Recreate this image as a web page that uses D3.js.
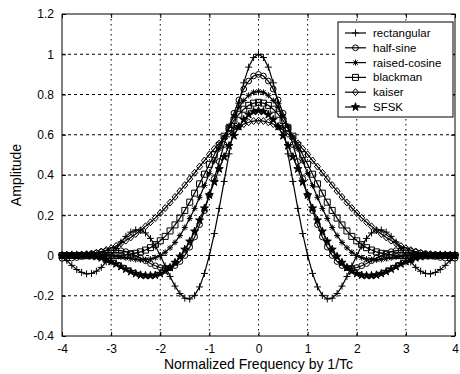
<!DOCTYPE html>
<html>
<head>
<meta charset="utf-8">
<script src="https://cdn.jsdelivr.net/npm/d3@7/dist/d3.min.js"></script>
<style>
  body { margin: 0; background: #fff; }
  svg { display: block; }
  text { font-family: "Liberation Sans", Arial, sans-serif; fill: #000; }
</style>
</head>
<body>
<div id="chart"></div>
<script>
// sample points of the normalized frequency axis
var freq = [-4.0, -3.9, -3.8, -3.7, -3.6, -3.5, -3.4, -3.3, -3.2, -3.1,
            -3.0, -2.9, -2.8, -2.7, -2.6, -2.5, -2.4, -2.3, -2.2, -2.1,
            -2.0, -1.9, -1.8, -1.7, -1.6, -1.5, -1.4, -1.3, -1.2, -1.1,
            -1.0, -0.9, -0.8, -0.7, -0.6, -0.5, -0.4, -0.3, -0.2, -0.1,
             0.0,  0.1,  0.2,  0.3,  0.4,  0.5,  0.6,  0.7,  0.8,  0.9,
             1.0,  1.1,  1.2,  1.3,  1.4,  1.5,  1.6,  1.7,  1.8,  1.9,
             2.0,  2.1,  2.2,  2.3,  2.4,  2.5,  2.6,  2.7,  2.8,  2.9,
             3.0,  3.1,  3.2,  3.3,  3.4,  3.5,  3.6,  3.7,  3.8,  3.9, 4.0];

var rectangular = [0, -0.025, -0.049, -0.070, -0.084, -0.091, -0.089, -0.078, -0.059, -0.032,
  0, 0.034, 0.067, 0.095, 0.116, 0.127, 0.126, 0.112, 0.085, 0.047,
  0, -0.052, -0.104, -0.152, -0.189, -0.212, -0.216, -0.198, -0.156, -0.089,
  0, 0.109, 0.234, 0.368, 0.505, 0.637, 0.757, 0.858, 0.936, 0.984,
  1, 0.984, 0.936, 0.858, 0.757, 0.637, 0.505, 0.368, 0.234, 0.109,
  0, -0.089, -0.156, -0.198, -0.216, -0.212, -0.189, -0.152, -0.104, -0.052,
  0, 0.047, 0.085, 0.112, 0.126, 0.127, 0.116, 0.095, 0.067, 0.034,
  0, -0.032, -0.059, -0.078, -0.089, -0.091, -0.084, -0.070, -0.049, -0.025, 0];

var halfSine = [-0.014, -0.014, -0.013, -0.010, -0.005, 0, 0.006, 0.012, 0.018, 0.023,
  0.026, 0.026, 0.024, 0.019, 0.011, 0, -0.013, -0.026, -0.040, -0.051,
  -0.060, -0.064, -0.061, -0.050, -0.030, 0, 0.041, 0.092, 0.153, 0.223,
  0.300, 0.382, 0.467, 0.551, 0.632, 0.707, 0.773, 0.827, 0.867, 0.892,
  0.900, 0.892, 0.867, 0.827, 0.773, 0.707, 0.632, 0.551, 0.467, 0.382,
  0.300, 0.223, 0.153, 0.092, 0.041, 0, -0.030, -0.050, -0.061, -0.064,
  -0.060, -0.051, -0.040, -0.026, -0.013, 0, 0.011, 0.019, 0.024, 0.026,
  0.026, 0.023, 0.018, 0.012, 0.006, 0, -0.005, -0.010, -0.013, -0.014, -0.014];

var raisedCosine = [0, 0.001, 0.003, 0.004, 0.006, 0.007, 0.007, 0.006, 0.005, 0.003,
  0, -0.004, -0.008, -0.012, -0.016, -0.020, -0.022, -0.021, -0.018, -0.011,
  0, 0.016, 0.038, 0.065, 0.099, 0.139, 0.184, 0.234, 0.289, 0.348,
  0.408, 0.470, 0.530, 0.589, 0.644, 0.693, 0.736, 0.770, 0.796, 0.811,
  0.816, 0.811, 0.796, 0.770, 0.736, 0.693, 0.644, 0.589, 0.530, 0.470,
  0.408, 0.348, 0.289, 0.234, 0.184, 0.139, 0.099, 0.065, 0.038, 0.016,
  0, -0.011, -0.018, -0.021, -0.022, -0.020, -0.016, -0.012, -0.008, -0.004,
  0, 0.003, 0.005, 0.006, 0.007, 0.007, 0.006, 0.004, 0.003, 0.001, 0];

var blackman = [0, 0, 0, 0, -0.001, -0.001, -0.001, -0.001, -0.001, 0,
  0, 0, 0.001, 0.003, 0.006, 0.011, 0.018, 0.027, 0.039, 0.054,
  0.073, 0.095, 0.122, 0.152, 0.186, 0.224, 0.265, 0.310, 0.356, 0.404,
  0.453, 0.501, 0.548, 0.593, 0.634, 0.671, 0.702, 0.727, 0.746, 0.757,
  0.761, 0.757, 0.746, 0.727, 0.702, 0.671, 0.634, 0.593, 0.548, 0.501,
  0.453, 0.404, 0.356, 0.310, 0.265, 0.224, 0.186, 0.152, 0.122, 0.095,
  0.073, 0.054, 0.039, 0.027, 0.018, 0.011, 0.006, 0.003, 0.001, 0,
  0, 0, -0.001, -0.001, -0.001, -0.001, -0.001, 0, 0, 0, 0];

var kaiser = [0, 0.001, 0.002, 0.003, 0.005, 0.007, 0.010, 0.014, 0.020, 0.027,
  0.036, 0.047, 0.060, 0.074, 0.090, 0.107, 0.125, 0.145, 0.165, 0.187,
  0.211, 0.236, 0.263, 0.291, 0.320, 0.350, 0.380, 0.411, 0.442, 0.472,
  0.502, 0.530, 0.557, 0.582, 0.604, 0.623, 0.640, 0.653, 0.662, 0.668,
  0.670, 0.668, 0.662, 0.653, 0.640, 0.623, 0.604, 0.582, 0.557, 0.530,
  0.502, 0.472, 0.442, 0.411, 0.380, 0.350, 0.320, 0.291, 0.263, 0.236,
  0.211, 0.187, 0.165, 0.145, 0.125, 0.107, 0.090, 0.074, 0.060, 0.047,
  0.036, 0.027, 0.020, 0.014, 0.010, 0.007, 0.005, 0.003, 0.002, 0.001, 0];

var sfsk = [0, 0.001, 0.002, 0.002, 0.001, 0, -0.002, -0.006, -0.012, -0.020,
  -0.030, -0.042, -0.055, -0.068, -0.080, -0.090, -0.097, -0.100, -0.100, -0.098,
  -0.090, -0.078, -0.060, -0.035, -0.005, 0.030, 0.070, 0.120, 0.175, 0.235,
  0.300, 0.365, 0.430, 0.490, 0.545, 0.595, 0.640, 0.675, 0.700, 0.715,
  0.720, 0.715, 0.700, 0.675, 0.640, 0.595, 0.545, 0.490, 0.430, 0.365,
  0.300, 0.235, 0.175, 0.120, 0.070, 0.030, -0.005, -0.035, -0.060, -0.078,
  -0.090, -0.098, -0.100, -0.100, -0.097, -0.090, -0.080, -0.068, -0.055, -0.042,
  -0.030, -0.020, -0.012, -0.006, -0.002, 0, 0.001, 0.002, 0.002, 0.001, 0];

var seriesNames = ["rectangular", "half-sine", "raised-cosine", "blackman", "kaiser", "SFSK"];
var seriesValues = [rectangular, halfSine, raisedCosine, blackman, kaiser, sfsk];
var seriesMarkers = ["plus", "circle", "asterisk", "square", "diamond", "star"];

var xTicks = [-4, -3, -2, -1, 0, 1, 2, 3, 4];
var xTickLabels = ["-4", "-3", "-2", "-1", "0", "1", "2", "3", "4"];
var yTicks = [-0.4, -0.2, 0, 0.2, 0.4, 0.6, 0.8, 1, 1.2];
var yTickLabels = ["-0.4", "-0.2", "0", "0.2", "0.4", "0.6", "0.8", "1", "1.2"];

var xLabel = "Normalized Frequency by 1/Tc";
var yLabel = "Amplitude";

// set the dimensions and margins of the graph
var margin = {top: 14, right: 5, bottom: 38, left: 62},
    width = 460 - margin.left - margin.right,
    height = 374 - margin.top - margin.bottom;

var svg = d3.select("#chart")
  .append("svg")
  .attr("width", 460)
  .attr("height", 374);

var g = svg.append("g")
  .attr("transform", "translate(" + margin.left + "," + margin.top + ")");

var x = d3.scaleLinear().domain([-4, 4]).range([0, width]);
var y = d3.scaleLinear().domain([-0.4, 1.2]).range([height, 0]);

// dotted grid
g.append("g").selectAll("line")
  .data(xTicks.slice(1, -1))
  .join("line")
  .attr("x1", d => x(d)).attr("x2", d => x(d))
  .attr("y1", 0).attr("y2", height)
  .attr("stroke", "#000").attr("stroke-width", 1)
  .attr("stroke-dasharray", "1.5,3.5");

g.append("g").selectAll("line")
  .data(yTicks.slice(1, -1))
  .join("line")
  .attr("x1", 0).attr("x2", width)
  .attr("y1", d => y(d)).attr("y2", d => y(d))
  .attr("stroke", "#000").attr("stroke-width", 1)
  .attr("stroke-dasharray", "3,3");

// axes with inward ticks
g.append("g")
  .attr("transform", "translate(0," + height + ")")
  .call(d3.axisBottom(x).tickValues(xTicks).tickSize(-4).tickPadding(8)
    .tickFormat((d, i) => xTickLabels[i]));
g.append("g")
  .call(d3.axisLeft(y).tickValues(yTicks).tickSize(-4).tickPadding(8)
    .tickFormat((d, i) => yTickLabels[i]));
g.append("g")
  .call(d3.axisTop(x).tickValues(xTicks).tickSize(-4).tickFormat(""));
g.append("g")
  .attr("transform", "translate(" + width + ",0)")
  .call(d3.axisRight(y).tickValues(yTicks).tickSize(-4).tickFormat(""));

g.selectAll(".domain").remove();
g.selectAll(".tick line").attr("stroke", "#000");
g.selectAll(".tick text")
  .attr("font-size", 12)
  .attr("font-family", "'Liberation Sans', Arial, sans-serif");

// frame
g.append("rect")
  .attr("width", width).attr("height", height)
  .attr("fill", "none").attr("stroke", "#000").attr("stroke-width", 1);

// marker shapes
function markerPath(type) {
  if (type === "plus") return "M-3.5,0H3.5M0,-3.5V3.5";
  if (type === "asterisk") return "M-3,0H3M0,-3V3M-2.2,-2.2L2.2,2.2M-2.2,2.2L2.2,-2.2";
  if (type === "square") return "M-3,-3H3V3H-3Z";
  if (type === "diamond") return "M0,-3.5L3,0L0,3.5L-3,0Z";
  if (type === "circle") return d3.symbol(d3.symbolCircle, 26)();
  return d3.symbol(d3.symbolStar, 20)();
}

var line = d3.line()
  .x((d, i) => x(freq[i]))
  .y(d => y(d));

seriesValues.forEach(function (vals, k) {
  var sg = g.append("g");
  sg.append("path")
    .datum(vals)
    .attr("fill", "none")
    .attr("stroke", "#000")
    .attr("stroke-width", 1.2)
    .attr("d", line);
  sg.selectAll("path.mk")
    .data(vals)
    .join("path")
    .attr("class", "mk")
    .attr("transform", (d, i) => "translate(" + x(freq[i]) + "," + y(d) + ")")
    .attr("d", markerPath(seriesMarkers[k]))
    .attr("fill", seriesMarkers[k] === "star" ? "#000" : "none")
    .attr("stroke", "#000")
    .attr("stroke-width", 1);
});

// legend
var lg = svg.append("g").attr("transform", "translate(338,22)");
lg.append("rect")
  .attr("width", 115).attr("height", 95)
  .attr("fill", "#fff").attr("stroke", "#000").attr("stroke-width", 1);
seriesNames.forEach(function (name, k) {
  var ly = 11 + k * 14.8;
  lg.append("line")
    .attr("x1", 7).attr("x2", 28).attr("y1", ly).attr("y2", ly)
    .attr("stroke", "#000").attr("stroke-width", 1.2);
  lg.append("path")
    .attr("transform", "translate(17.5," + ly + ")")
    .attr("d", markerPath(seriesMarkers[k]))
    .attr("fill", seriesMarkers[k] === "star" ? "#000" : "none")
    .attr("stroke", "#000");
  lg.append("text")
    .attr("x", 35).attr("y", ly).attr("dy", "0.35em")
    .attr("font-size", 11.5)
    .text(name);
});

// axis labels
svg.append("text")
  .attr("x", margin.left + width / 2).attr("y", 369)
  .attr("text-anchor", "middle")
  .attr("font-size", 14)
  .text(xLabel);

svg.append("text")
  .attr("transform", "translate(21,175) rotate(-90)")
  .attr("text-anchor", "middle")
  .attr("font-size", 14)
  .text(yLabel);
</script>
</body>
</html>
